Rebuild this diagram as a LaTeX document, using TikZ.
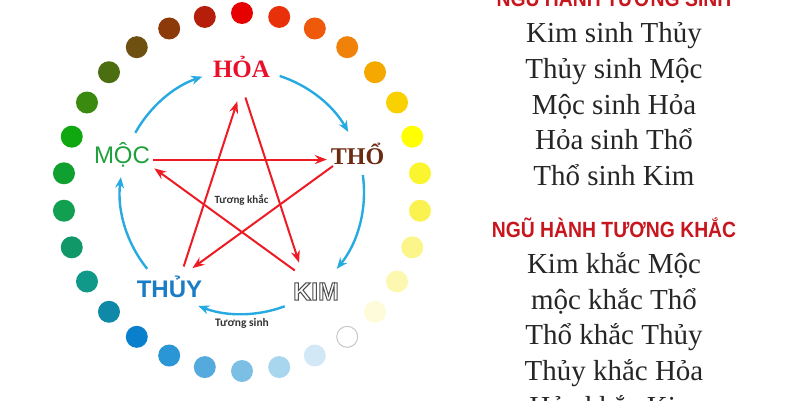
\documentclass[tikz,border=0pt]{standalone}
\usepackage{fontspec}
\setmainfont{Liberation Serif}
\setsansfont{Liberation Sans}
\newfontfamily\headfont{Liberation Sans}[FakeStretch=0.88]
\newfontfamily\smallfont{Carlito}
\usetikzlibrary{arrows.meta}
\definecolor{sinhblue}{HTML}{27A9E1}
\definecolor{khacred}{HTML}{ED1C24}
\definecolor{headred}{HTML}{C8161E}
\definecolor{hoared}{HTML}{E8102A}
\definecolor{thobrown}{HTML}{6B2A12}
\definecolor{mocgreen}{HTML}{1FA03C}
\definecolor{thuyblue}{HTML}{1A7CC4}
\newcommand{\outlinetext}[1]{{\color{white}\special{pdf:literal direct 2 Tr 1 w 0.3 0.3 0.3 RG}#1\special{pdf:literal direct 0 Tr}}}

\begin{document}
\begin{tikzpicture}[x=1pt,y=1pt,
    elem/.style={inner sep=2pt,text height=17pt,text depth=0pt},
    sinh/.style={draw=sinhblue,line width=2.4pt,-{Stealth[length=11pt,width=9pt]}},
    khac/.style={draw=khacred,line width=2pt,-{Stealth[length=12pt,width=9pt]},shorten <=11pt,shorten >=15pt},
    listline/.style={anchor=base,font=\fontsize{29}{29}\selectfont,text=black!85},
    listhead/.style={anchor=base,font=\headfont\bfseries\fontsize{22}{22}\selectfont,text=headred}]
        \useasboundingbox (-242,-208) rectangle (558,192);
        \clip (-242,-208) rectangle (558,192);

        \coordinate (c) at (0,0);
        \pgfmathsetmacro{\r}{122}

        \foreach \col [count=\k from 0] in {E60000,E8300A,EE5A0A,F0820A,F5A800,F9D000,FFFF00,FBF530,FAF250,FBF58A,FCF8B0,FDFBD8,FFFFFF,D2E8F6,A8D6EE,7CBFE4,55AADD,2A96D5,0A80CC,1088A8,109888,109868,10A050,10A030,10A810,3A8A10,4A6E10,6E5010,8C3A0A,B41E0A}{
            \definecolor{dotcol}{HTML}{\col}
            \fill[dotcol] (90-12*\k:179) circle (11);
        }
        \draw[black!22,line width=1pt] (-54:179) circle (10.5);

        \node[elem,font=\bfseries\fontsize{25}{25}\selectfont,text=hoared] (hoa) at (-0.5,123) {HỎA};
        \node[elem,font=\bfseries\fontsize{24}{24}\selectfont,text=thobrown] (tho) at (115.5,36.5) {THỔ};
        \node[elem,font=\sffamily\fontsize{24}{24}\selectfont,text=mocgreen] (moc) at (-120,37.5) {MỘC};
        \node[elem,font=\sffamily\bfseries\fontsize{24}{24}\selectfont,text=thuyblue] (thuy) at (-72.5,-97) {THỦY};
        \node[elem,font=\sffamily\bfseries\fontsize{25}{25}\selectfont] (kim) at (74,-99.5) {\outlinetext{KIM}};

        % tuong sinh, round the centre
        \draw[sinh] ([shift={(151:\r)}]c) arc[start angle=151,end angle=109,radius=\r];
        \draw[sinh] ([shift={(72:\r)}]c) arc[start angle=72,end angle=29.5,radius=\r];
        \draw[sinh] ([shift={(8:\r)}]c) arc[start angle=8,end angle=-39,radius=\r];
        \draw[sinh] ([shift={(-69.5:\r)}]c) arc[start angle=-69.5,end angle=-111,radius=\r];
        \draw[sinh] ([shift={(-141:\r)}]c) arc[start angle=-141,end angle=-187,radius=\r];

        \coordinate (sHoa) at (90:105);
        \coordinate (sTho) at (18:105);
        \coordinate (sKim) at (-54:105);
        \coordinate (sThuy) at (-126:105);
        \coordinate (sMoc) at (162:105);

        \draw[khac] (sMoc) -- (sTho);
        \draw[khac] (sTho) -- (sThuy);
        \draw[khac] (sThuy) -- (sHoa);
        \draw[khac] (sHoa) -- (sKim);
        \draw[khac] (sKim) -- (sMoc);

        \node[font=\smallfont\bfseries\fontsize{11}{11}\selectfont,text=black!80] (tkhac) at (-0.5,-8) {Tương khắc};
        \node[font=\smallfont\bfseries\fontsize{11.5}{11.5}\selectfont,text=black!80] (tsinh) at (0,-131) {Tương sinh};

        \node[listhead] (headsinh) at (372,185.8) {NGŨ HÀNH TƯƠNG SINH};
        \foreach \txt [count=\i from 0] in {Kim sinh Thủy, Thủy sinh Mộc, Mộc sinh Hỏa, Hỏa sinh Thổ, Thổ sinh Kim}
            \node[listline] (sinh\i) at (372,149.3-35.7*\i) {\txt};

        \node[listhead] (headkhac) at (372,-45) {NGŨ HÀNH TƯƠNG KHẮC};
        \foreach \txt [count=\i from 0] in {Kim khắc Mộc, mộc khắc Thổ, Thổ khắc Thủy, Thủy khắc Hỏa, Hỏa khắc Kim}
            \node[listline] (khac\i) at (372,-81.5-35.7*\i) {\txt};
\end{tikzpicture}
\end{document}
